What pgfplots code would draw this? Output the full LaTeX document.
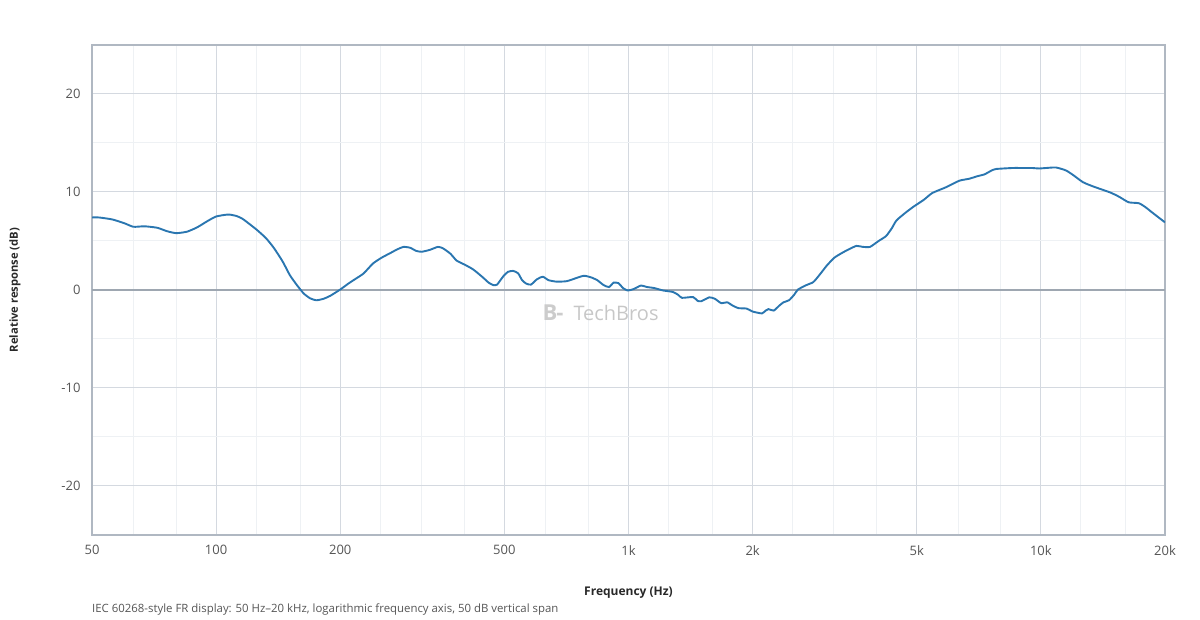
\documentclass[border=0pt]{standalone}
\usepackage{pgfplots}
\pgfplotsset{compat=1.18}
\usepackage{fontspec}
\setmainfont{Open Sans}
\definecolor{curve}{RGB}{42,118,176}
\definecolor{frame}{RGB}{176,184,194}
\definecolor{gmaj}{RGB}{212,217,224}
\definecolor{gmin}{RGB}{238,241,244}
\definecolor{zeroc}{RGB}{158,167,177}
\definecolor{ticktext}{RGB}{85,85,85}
\definecolor{labtext}{RGB}{40,40,40}
\begin{document}
\begin{tikzpicture}
\path[use as bounding box] (-92pt,-85pt) rectangle (1108pt,535pt);
\begin{axis}[
  at={(0pt,0pt)}, anchor=south west,
  scale only axis, width=1073pt, height=490pt,
  xmode=log, log basis x=10,
  xmin=50, xmax=20000, ymin=-25, ymax=25,
  xtick={50,100,200,500,1000,2000,5000,10000,20000},
  xticklabels={50,100,200,500,1k,2k,5k,10k,20k},
  minor xtick={63,80,125,160,250,315,400,630,800,1250,1600,2500,3150,4000,6300,8000,12500,16000},
  ytick={-20,-10,0,10,20},
  yticklabels={-20,-10,0,10,20},
  minor ytick={-15,-5,5,15},
  major tick length=0pt, minor tick length=0pt,
  grid=both,
  major grid style={draw=gmaj, line width=1pt},
  minor grid style={draw=gmin, line width=1pt},
  axis line style={draw=frame, line width=1.6pt},
  tick label style={font=\fontsize{13}{15}\selectfont, text=ticktext},
  xticklabel style={yshift=-7pt},
  yticklabel style={xshift=-8pt},
  clip=true,
]
\draw[zeroc, line width=1.8pt] (axis cs:50,0) -- (axis cs:20000,0);
\addplot[curve, line width=1.9pt, smooth, tension=0.35] coordinates {
(50,7.4) (52,7.4) (56,7.2) (60,6.8) (63,6.45) (67,6.5) (72,6.35) (76,6.0) (80,5.8) (85,5.95)
(90,6.4) (95,7.0) (100,7.5) (107,7.7) (112,7.55) (116,7.25) (125,6.2) (132,5.3) (138,4.3) (145,2.9)
(151,1.5) (157,0.5) (163,-0.35) (169,-0.85) (175,-1.05) (182,-0.9) (189,-0.6) (200,0.05) (210,0.7) (219,1.2)
(228,1.7) (240,2.7) (252,3.3) (264,3.75) (275,4.15) (285,4.4) (296,4.3) (305,4.0) (315,3.9) (330,4.1)
(345,4.4) (355,4.25) (370,3.7) (383,3.0) (400,2.6) (420,2.1) (443,1.3) (458,0.75) (470,0.5) (480,0.55)
(497,1.4) (510,1.85) (525,1.95) (540,1.7) (552,1.0) (565,0.65) (580,0.55) (600,1.1) (620,1.35) (640,1.0)
(670,0.85) (708,0.9) (745,1.2) (779,1.45) (810,1.3) (840,1.0) (870,0.5) (897,0.3) (920,0.75) (945,0.7)
(970,0.2) (995,-0.05) (1030,0.1) (1071,0.45) (1110,0.3) (1154,0.2) (1213,-0.05) (1281,-0.2) (1320,-0.5) (1348,-0.8)
(1434,-0.72) (1470,-1.1) (1500,-1.15) (1570,-0.75) (1620,-0.9) (1679,-1.35) (1734,-1.25) (1790,-1.6) (1846,-1.85) (1936,-1.9)
(2000,-2.2) (2107,-2.39) (2150,-2.1) (2184,-1.95) (2250,-2.1) (2320,-1.6) (2377,-1.25) (2450,-1.05) (2520,-0.5) (2577,0.05)
(2700,0.5) (2805,0.8) (2900,1.5) (3027,2.5) (3157,3.3) (3300,3.8) (3440,4.2) (3572,4.5) (3700,4.4) (3853,4.4)
(4040,5.0) (4212,5.5) (4350,6.3) (4465,7.1) (4700,7.9) (4910,8.5) (5200,9.2) (5455,9.9) (5900,10.5) (6340,11.15)
(6700,11.35) (7000,11.6) (7300,11.8) (7600,12.2) (7800,12.35) (8550,12.45) (9000,12.45) (9500,12.45) (9900,12.4) (10300,12.45)
(10880,12.5) (11500,12.2) (12000,11.7) (12650,11.0) (13400,10.56) (14730,9.95) (15500,9.5) (16330,8.95) (17300,8.85) (18000,8.4)
(18500,8.0) (19300,7.4) (20000,6.9)
};
\end{axis}
\node[text=black!20, font=\fontsize{22}{24}\selectfont\bfseries] at (461pt,222pt) {B\kern-1pt-};
\node[anchor=west, text=black!22, font=\fontsize{20}{22}\selectfont] at (478pt,222pt) {TechBros};
\node[text=labtext, font=\fontsize{12}{14}\selectfont\bfseries] at (536.5pt,-58pt) {Frequency (Hz)};
\node[rotate=90, text=labtext, font=\fontsize{11.2}{13}\selectfont\bfseries] at (-77pt,245pt) {Relative response (dB)};
\node[anchor=west, inner sep=0pt, text=ticktext, font=\fontsize{11.4}{13}\selectfont] at (0pt,-75pt) {IEC 60268-style FR display: 50 Hz–20 kHz, logarithmic frequency axis, 50 dB vertical span};
\end{tikzpicture}
\end{document}
